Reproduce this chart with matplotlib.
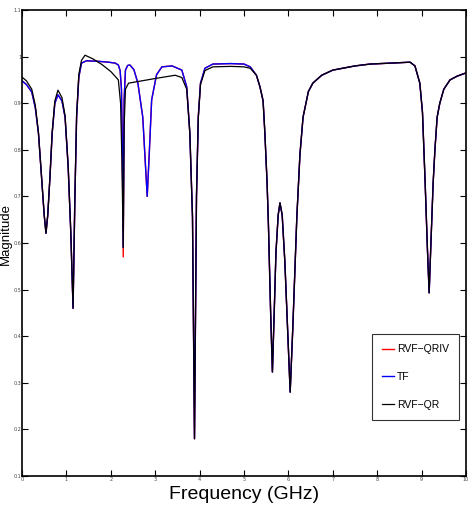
import matplotlib
matplotlib.use("Agg")
import matplotlib.pyplot as plt

# frequency samples (GHz), shared by TF and RVF-QRIV
freq = [0.00, 0.10, 0.22, 0.30, 0.37, 0.44, 0.50, 0.54, 0.58, 0.63, 0.68, 0.74, 0.81,
        0.90, 0.97, 1.04, 1.10, 1.15, 1.19, 1.23, 1.28, 1.34, 1.45, 1.70, 1.95, 2.10,
        2.17, 2.21, 2.24, 2.26, 2.28, 2.30, 2.33, 2.38, 2.43, 2.52, 2.61, 2.72, 2.77,
        2.82, 2.87, 2.92, 3.03, 3.15, 3.38, 3.60, 3.71, 3.78, 3.84, 3.885, 3.93, 3.97,
        4.02, 4.12, 4.30, 4.70, 5.00, 5.14, 5.28, 5.36, 5.43, 5.47, 5.52, 5.55, 5.60,
        5.64, 5.68, 5.72, 5.77, 5.81, 5.86, 5.92, 5.98, 6.04, 6.10, 6.19, 6.26, 6.33,
        6.45, 6.55, 6.75, 7.00, 7.50, 7.84, 8.30, 8.74, 8.85, 8.96, 9.02, 9.08, 9.13,
        9.17, 9.21, 9.26, 9.30, 9.35, 9.41, 9.50, 9.64, 9.80, 10.00]

tf_mag = [0.948, 0.940, 0.924, 0.890, 0.836, 0.742, 0.660, 0.621, 0.660, 0.742, 0.836,
          0.900, 0.918, 0.905, 0.870, 0.763, 0.620, 0.460, 0.692, 0.870, 0.956, 0.986,
          0.991, 0.990, 0.988, 0.986, 0.982, 0.970, 0.930, 0.800, 0.591, 0.907, 0.971,
          0.981, 0.982, 0.972, 0.943, 0.870, 0.785, 0.700, 0.800, 0.907, 0.961, 0.978,
          0.980, 0.971, 0.935, 0.836, 0.656, 0.180, 0.700, 0.870, 0.943, 0.975, 0.984,
          0.985, 0.984, 0.978, 0.960, 0.935, 0.905, 0.836, 0.729, 0.640, 0.450, 0.323,
          0.450, 0.580, 0.660, 0.686, 0.660, 0.560, 0.420, 0.280, 0.420, 0.656, 0.790,
          0.870, 0.925, 0.943, 0.960, 0.971, 0.980, 0.984, 0.986, 0.988, 0.980, 0.943,
          0.880, 0.729, 0.590, 0.493, 0.600, 0.729, 0.800, 0.870, 0.900, 0.930, 0.950,
          0.958, 0.965]

rvf_qriv_mag = [0.948, 0.940, 0.924, 0.890, 0.836, 0.742, 0.660, 0.621, 0.660, 0.742, 0.836,
                0.900, 0.918, 0.905, 0.870, 0.763, 0.620, 0.460, 0.692, 0.870, 0.956, 0.986,
                0.991, 0.990, 0.988, 0.986, 0.982, 0.970, 0.930, 0.800, 0.570, 0.907, 0.971,
                0.981, 0.982, 0.972, 0.943, 0.870, 0.785, 0.700, 0.800, 0.907, 0.961, 0.978,
                0.980, 0.971, 0.935, 0.836, 0.656, 0.180, 0.700, 0.870, 0.943, 0.975, 0.984,
                0.985, 0.984, 0.978, 0.960, 0.935, 0.905, 0.836, 0.729, 0.640, 0.450, 0.323,
                0.450, 0.580, 0.660, 0.686, 0.660, 0.560, 0.420, 0.280, 0.420, 0.656, 0.790,
                0.870, 0.925, 0.943, 0.960, 0.971, 0.980, 0.984, 0.986, 0.988, 0.980, 0.943,
                0.880, 0.729, 0.590, 0.493, 0.600, 0.729, 0.800, 0.870, 0.900, 0.930, 0.950,
                0.958, 0.965]

# RVF-QR has its own samples (differs mostly between 1.3 and 3.9 GHz)
freq_qr = [0.00, 0.10, 0.22, 0.30, 0.37, 0.44, 0.50, 0.54, 0.58, 0.63, 0.68, 0.74, 0.81,
           0.90, 0.97, 1.04, 1.10, 1.15, 1.19, 1.23, 1.28, 1.34, 1.42, 1.60, 1.80, 2.00,
           2.17, 2.22, 2.25, 2.28, 2.30, 2.33, 2.40, 2.70, 3.00, 3.45, 3.60, 3.71, 3.78,
           3.84, 3.885, 3.93, 3.97, 4.02, 4.12, 4.30, 4.70, 5.00, 5.14, 5.28, 5.36, 5.43,
           5.47, 5.52, 5.55, 5.60, 5.64, 5.68, 5.72, 5.77, 5.81, 5.86, 5.92, 5.98, 6.04,
           6.10, 6.19, 6.26, 6.33, 6.45, 6.55, 6.75, 7.00, 7.50, 7.84, 8.30, 8.74, 8.85,
           8.96, 9.02, 9.08, 9.13, 9.17, 9.21, 9.26, 9.30, 9.35, 9.41, 9.50, 9.64, 9.80,
           10.00]

rvf_qr_mag = [0.956, 0.948, 0.930, 0.895, 0.838, 0.742, 0.660, 0.621, 0.660, 0.742, 0.838,
              0.905, 0.928, 0.912, 0.873, 0.765, 0.620, 0.460, 0.692, 0.875, 0.962, 0.992,
              1.003, 0.995, 0.983, 0.968, 0.950, 0.900, 0.780, 0.590, 0.850, 0.930, 0.943,
              0.948, 0.953, 0.960, 0.955, 0.930, 0.836, 0.656, 0.180, 0.700, 0.868, 0.940,
              0.970, 0.978, 0.979, 0.978, 0.975, 0.960, 0.935, 0.905, 0.836, 0.729, 0.640,
              0.450, 0.323, 0.450, 0.580, 0.660, 0.686, 0.660, 0.560, 0.420, 0.280, 0.420,
              0.656, 0.790, 0.870, 0.925, 0.943, 0.960, 0.971, 0.980, 0.984, 0.986, 0.988,
              0.980, 0.943, 0.880, 0.729, 0.590, 0.493, 0.600, 0.729, 0.800, 0.870, 0.900,
              0.930, 0.950, 0.958, 0.965]

xticks = [0, 1, 2, 3, 4, 5, 6, 7, 8, 9, 10]
yticks = [0.1, 0.2, 0.3, 0.4, 0.5, 0.6, 0.7, 0.8, 0.9, 1.0, 1.1]
ytick_labels = ["0.1", "0.2", "0.3", "0.4", "0.5", "0.6", "0.7", "0.8", "0.9", "1", "1.1"]

fig = plt.figure(figsize=(4.72, 5.14), dpi=100)
ax = fig.add_axes([22 / 472, 38 / 514, 444 / 472, 466 / 514])

ax.plot(freq, rvf_qriv_mag, color="#ff0000", lw=1.0, label="RVF\u2212QRIV")
ax.plot(freq, tf_mag, color="#0000ff", lw=1.0, label="TF")
ax.plot(freq_qr, rvf_qr_mag, color="black", lw=0.9, label="RVF\u2212QR")

ax.set_xlim(0, 10)
ax.set_ylim(0.1, 1.1)
ax.set_xticks(xticks)
ax.set_xticklabels([str(t) for t in xticks])
ax.set_yticks(yticks)
ax.set_yticklabels(ytick_labels)
ax.tick_params(direction="in", length=4, width=0.8, labelsize=3.5, pad=0.5,
               top=True, right=True, labelcolor="#444444")
for s in ax.spines.values():
    s.set_linewidth(1.2)

ax.set_xlabel("Frequency (GHz)", fontsize=14, family="Liberation Sans", labelpad=3)
fig.text(0.0128, 0.545, "Magnitude", rotation=90, fontsize=9.5, ha="center", va="center",
         family="Liberation Sans")

leg = ax.legend(loc="lower right", bbox_to_anchor=(0.985, 0.12),
                prop={"family": "Liberation Sans", "size": 7.5},
                fancybox=False, edgecolor="black", handlelength=1.1, handletextpad=0.3,
                labelspacing=1.7, borderpad=1.0, borderaxespad=0)
leg.get_frame().set_linewidth(0.8)

fig.savefig("out.png", dpi=100)
